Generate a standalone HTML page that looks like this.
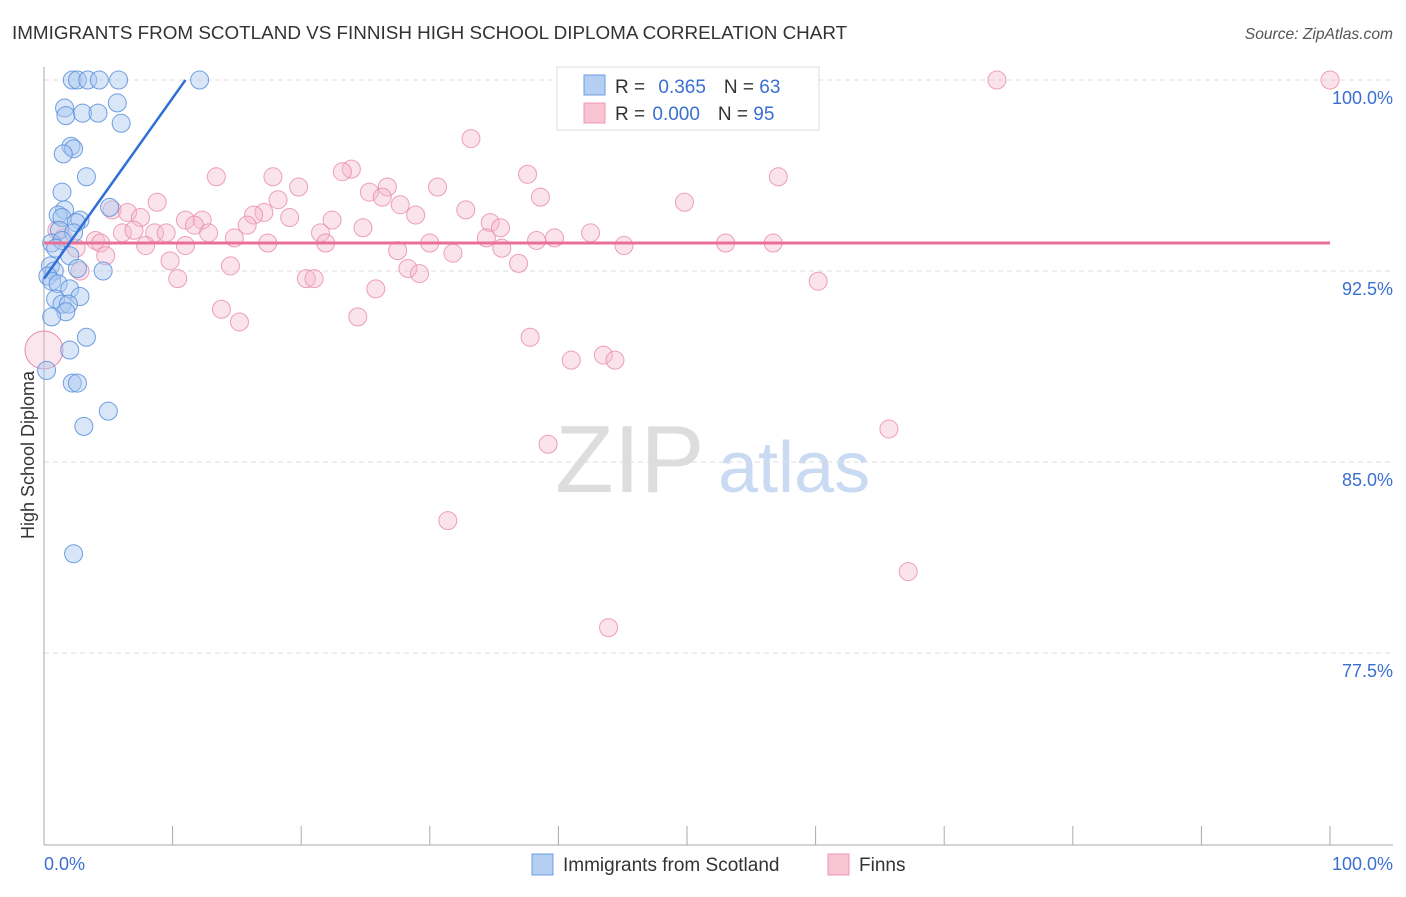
<!DOCTYPE html>
<html><head><meta charset="utf-8"><style>
body{margin:0;background:#fff;font-family:"Liberation Sans",sans-serif;}
svg text{font-family:"Liberation Sans",sans-serif;}
</style></head><body>
<svg id="chart" width="1406" height="892">
<text x="12" y="39" font-size="18.85" fill="#333">IMMIGRANTS FROM SCOTLAND VS FINNISH HIGH SCHOOL DIPLOMA CORRELATION CHART</text>
<text x="1393" y="39" font-size="15.6" fill="#555" font-style="italic" text-anchor="end">Source: ZipAtlas.com</text>
<text x="555" y="492" font-size="96" fill="#ddd" font-family="Liberation Serif">ZIP</text>
<text x="718" y="492" font-size="72" fill="#c9daf2">atlas</text>
<g id="grid"></g><g id="axes"></g><g id="pts"></g><g id="lines"></g>
<g>
<rect x="557" y="67" width="262" height="63" fill="#fff" stroke="#ddd"/>
<rect x="584" y="75" width="21" height="20" fill="#b4cff2" stroke="#6c9ce0"/>
<rect x="584" y="103" width="21" height="20" fill="#f8c4d4" stroke="#ec9ab4"/>
<text x="615" y="93" font-size="19" fill="#333">R = <tspan fill="#3a6fd1" dx="8">0.365</tspan><tspan fill="#333" dx="18">N = </tspan><tspan fill="#3a6fd1">63</tspan></text>
<text x="615" y="120" font-size="19" fill="#333">R = <tspan fill="#3a6fd1" dx="2">0.000</tspan><tspan fill="#333" dx="18">N = </tspan><tspan fill="#3a6fd1">95</tspan></text>
</g>
<text transform="translate(34,455) rotate(-90)" font-size="18" fill="#333" text-anchor="middle">High School Diploma</text>
<text x="44" y="870" font-size="18" fill="#3a6fd1">0.0%</text>
<text x="1393" y="870" font-size="18" fill="#3a6fd1" text-anchor="end">100.0%</text>
<g><rect x="532" y="854" width="21" height="21" fill="#b4cff2" stroke="#6c9ce0"/><text x="563" y="871" font-size="19" fill="#333">Immigrants from Scotland</text></g>
<g><rect x="828" y="854" width="21" height="21" fill="#f8c4d4" stroke="#ec9ab4"/><text x="859" y="871" font-size="19" fill="#333">Finns</text></g>
</svg>
<script>
const yTicks=[100,92.5,85,77.5];
const yTickLabels=["100.0%","92.5%","85.0%","77.5%"];
const blueX=[2.2,2.6,3.4,4.3,5.8,12.1,1.6,1.7,3.0,4.2,5.7,6.0,2.1,2.3,1.5,3.3,1.4,5.1,1.6,1.1,1.4,2.8,2.5,1.2,2.3,0.6,1.4,0.9,2.0,0.5,0.8,0.3,0.6,1.1,2.6,4.6,2.0,2.8,0.9,1.4,1.9,1.7,0.6,3.3,2.0,0.2,2.2,2.6,5.0,3.1,2.3];
const blueY=[100,100,100,100,100,100,98.9,98.6,98.7,98.7,99.1,98.3,97.4,97.3,97.1,96.2,95.6,95.0,94.9,94.7,94.6,94.5,94.4,94.1,94.0,93.6,93.7,93.4,93.1,92.7,92.5,92.3,92.1,92.0,92.6,92.5,91.8,91.5,91.4,91.2,91.2,90.9,90.7,89.9,89.4,88.6,88.1,88.1,87.0,86.4,81.4];
const pinkX=[55.8,59.0,74.1,100,41.5,51.8,33.2,23.9,23.2,13.4,17.8,37.6,57.1,19.8,26.7,30.6,25.3,26.3,38.6,18.2,8.8,49.8,27.7,32.8,5.3,6.5,17.1,16.3,28.9,19.1,7.5,11.0,12.3,22.4,11.7,15.8,34.7,35.5,24.8,6.1,7.0,8.6,9.5,12.8,21.5,42.5,14.8,34.4,39.7,38.3,4.0,21.9,17.4,30.0,4.4,7.9,11.0,45.1,53.0,56.7,27.5,35.6,31.8,4.8,9.8,36.9,14.5,28.3,2.8,29.2,10.4,20.4,21.0,60.2,25.8,13.8,24.4,15.2,37.8,41.0,43.5,44.4,39.2,65.7,31.4,67.2,43.9,1.5,2.5,1.0];
const pinkY=[100,100,100,100,98.7,98.7,97.7,96.5,96.4,96.2,96.2,96.3,96.2,95.8,95.8,95.8,95.6,95.4,95.4,95.3,95.2,95.2,95.1,94.9,94.9,94.8,94.8,94.7,94.7,94.6,94.6,94.5,94.5,94.5,94.3,94.3,94.4,94.2,94.2,94.0,94.1,94.0,94.0,94.0,94.0,94.0,93.8,93.8,93.8,93.7,93.7,93.6,93.6,93.6,93.6,93.5,93.5,93.5,93.6,93.6,93.3,93.4,93.2,93.1,92.9,92.8,92.7,92.6,92.5,92.4,92.2,92.2,92.2,92.1,91.8,91.0,90.7,90.5,89.9,89.0,89.2,89.0,85.7,86.3,82.7,80.7,78.5,93.8,93.4,94.1];
const blueTrend=[[0,92.2],[11,100]];
const pinkTrend=[[0,93.6],[100,93.6]];
const NS="http://www.w3.org/2000/svg";
const X=v=>44+v*12.86, Y=v=>80+(100-v)*25.47;
function mk(t,a,p){const e=document.createElementNS(NS,t);for(const k in a)e.setAttribute(k,a[k]);p.appendChild(e);return e;}
const grid=document.getElementById('grid'),axes=document.getElementById('axes'),pts=document.getElementById('pts'),lines=document.getElementById('lines');
yTicks.forEach((t,i)=>{
 const l=mk('line',{x1:44,x2:1393,y1:Y(t),y2:Y(t),stroke:'#ddd','stroke-dasharray':'5,4'},grid);
 
 
 const tx=mk('text',{x:1393,y:Y(t)+24,'font-size':18,fill:'#3a6fd1','text-anchor':'end'},grid);
 tx.textContent=yTickLabels[i];
 
 
});
const ya=mk('line',{x1:44,x2:44,y1:67,y2:845,stroke:'#aaa'},axes);


const xa=mk('line',{x1:44,x2:1393,y1:845,y2:845,stroke:'#aaa'},axes);


for(let i=0;i<=10;i++){
 const t=mk('line',{x1:X(i*10),x2:X(i*10),y1:826,y2:845,stroke:'#aaa'},axes);
 
 
}
const bp=mk('circle',{cx:X(0),cy:Y(89.4),r:19,fill:'#f5b8cc','fill-opacity':0.35,stroke:'#e88aa8'},pts);


pinkX.forEach((x,i)=>{
 const c=mk('circle',{cx:X(x),cy:Y(pinkY[i]),r:9,fill:'#f5b8cc','fill-opacity':0.4,stroke:'#e88aa8','stroke-opacity':0.8},pts);
 
 
});
blueX.forEach((x,i)=>{
 const c=mk('circle',{cx:X(x),cy:Y(blueY[i]),r:9,fill:'#a9c8f0','fill-opacity':0.45,stroke:'#5b8fdc','stroke-opacity':0.85},pts);
 
 
});
const pl=mk('line',{x1:X(pinkTrend[0][0]),y1:Y(pinkTrend[0][1]),x2:X(pinkTrend[1][0]),y2:Y(pinkTrend[1][1]),stroke:'#e87096','stroke-width':3},lines);


const bl=mk('line',{x1:X(blueTrend[0][0]),y1:Y(blueTrend[0][1]),x2:X(blueTrend[1][0]),y2:Y(blueTrend[1][1]),stroke:'#2f6fd6','stroke-width':2.5},lines);


</script>
</body></html>
